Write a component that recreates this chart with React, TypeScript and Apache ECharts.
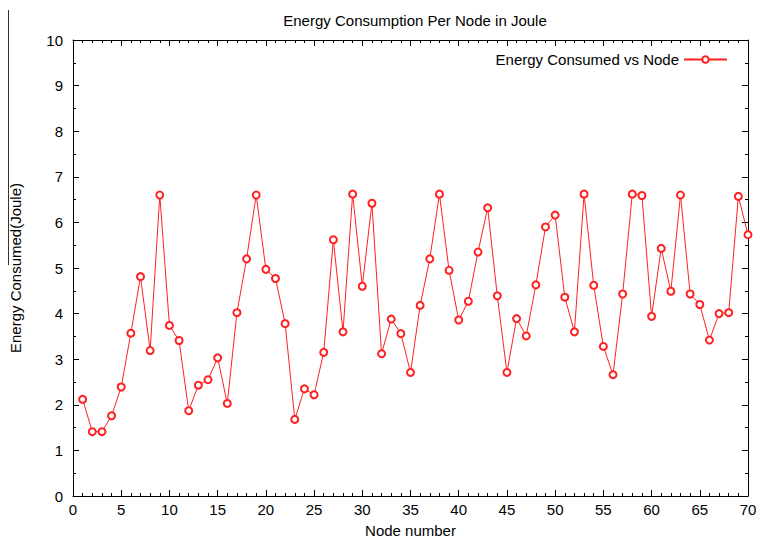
import React, { useEffect, useRef } from "react";
import * as echarts from "echarts";

const nodes: number[] = Array.from({ length: 70 }, (_, i) => i + 1);
const energy: number[] = [
  2.12, 1.41, 1.41, 1.76, 2.39, 3.57, 4.81, 3.19, 6.6, 3.74,
  3.41, 1.87, 2.43, 2.55, 3.03, 2.03, 4.02, 5.2, 6.6, 4.97,
  4.77, 3.78, 1.68, 2.35, 2.22, 3.15, 5.62, 3.6, 6.62, 4.6,
  6.42, 3.12, 3.88, 3.56, 2.71, 4.18, 5.2, 6.62, 4.95, 3.86,
  4.27, 5.35, 6.32, 4.39, 2.71, 3.89, 3.51, 4.63, 5.9, 6.16,
  4.36, 3.6, 6.62, 4.62, 3.28, 2.66, 4.43, 6.62, 6.59, 3.94,
  5.43, 4.49, 6.6, 4.43, 4.2, 3.42, 4.0, 4.02, 6.57, 5.73,
];
const title = "Energy Consumption Per Node in Joule";
const seriesName = "Energy Consumed vs Node";
const xName = "Node number";
const yName = "Energy Consumed(Joule)";

const FONT = "'Liberation Sans', Arial, sans-serif";
const FS = 15;

export default function App() {
  const ref = useRef<HTMLDivElement>(null);
  useEffect(() => {
    if (!ref.current) return;
    const chart = echarts.init(ref.current, undefined, { renderer: "svg" });
    const axisLine = { show: true, onZero: false, lineStyle: { color: "#000", width: 1 } };
    const tick = { show: true, inside: true, length: 6, lineStyle: { color: "#000" } };
    const minor = (n: number) => ({ show: true, splitNumber: n, length: 3, lineStyle: { color: "#000" } });
    chart.setOption({
      animation: false,
      backgroundColor: "#fff",
      title: {
        text: title,
        left: 410,
        top: 8,
        textAlign: "center",
        textStyle: { fontFamily: FONT, fontSize: FS, fontWeight: "normal", color: "#000" },
      },
      legend: {
        data: [seriesName],
        right: 28,
        top: 47,
        align: "right",
        itemWidth: 43,
        itemHeight: 8,
        itemGap: 10,
        textStyle: { fontFamily: FONT, fontSize: FS, color: "#000" },
      },
      grid: { left: 72, right: 13, top: 40, bottom: 46, containLabel: false },
      xAxis: [
        {
          type: "value",
          min: 0,
          max: 70,
          interval: 5,
          name: xName,
          nameLocation: "middle",
          nameGap: 27,
          nameTextStyle: { fontFamily: FONT, fontSize: FS, color: "#000" },
          axisLine,
          axisTick: tick,
          minorTick: minor(5),
          splitLine: { show: false },
          axisLabel: { fontFamily: FONT, fontSize: FS, color: "#000", margin: 6 },
        },
        {
          type: "value",
          position: "top",
          min: 0,
          max: 70,
          interval: 5,
          axisLine,
          axisTick: tick,
          minorTick: minor(5),
          splitLine: { show: false },
          axisLabel: { show: false },
        },
      ],
      yAxis: [
        {
          type: "value",
          min: 0,
          max: 10,
          interval: 1,
          name: yName,
          nameLocation: "middle",
          nameGap: 50,
          nameTextStyle: { fontFamily: FONT, fontSize: FS, color: "#000" },
          axisLine,
          axisTick: tick,
          minorTick: minor(2),
          splitLine: { show: false },
          axisLabel: { fontFamily: FONT, fontSize: FS, color: "#000", margin: 10 },
        },
        {
          type: "value",
          position: "right",
          min: 0,
          max: 10,
          interval: 1,
          axisLine,
          axisTick: tick,
          minorTick: minor(2),
          splitLine: { show: false },
          axisLabel: { show: false },
        },
      ],
      graphic: [
        {
          type: "line",
          shape: { x1: 8.5, y1: 10, x2: 8.5, y2: 265 },
          style: { stroke: "#333", lineWidth: 1 },
        },
      ],
      series: [
        {
          name: seriesName,
          type: "line",
          xAxisIndex: 0,
          yAxisIndex: 0,
          data: nodes.map((n, i) => [n, energy[i]]),
          symbol: "emptyCircle",
          symbolSize: 7,
          lineStyle: { color: "#ff2020", width: 1 },
          itemStyle: { color: "#ff2020", borderColor: "#ff2020", borderWidth: 1.2 },
        },
      ],
    });
    return () => chart.dispose();
  }, []);
  return (
    <div
      ref={ref}
      style={{ position: "fixed", left: 0, top: 0, width: 761, height: 543, background: "#fff" }}
    />
  );
}
